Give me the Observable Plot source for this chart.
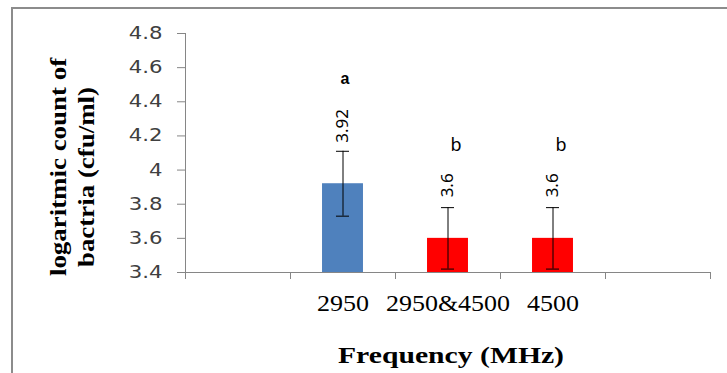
<!DOCTYPE html>
<html>
<head>
<meta charset="utf-8">
<script src="https://cdn.jsdelivr.net/npm/d3@7"></script>
<script src="https://cdn.jsdelivr.net/npm/@observablehq/plot@0.6"></script>
<style>
  body { margin: 0; background: #fff; }
  #wrap { position: relative; width: 727px; height: 373px; overflow: hidden; }
  #frame { position: absolute; left: 11px; top: 7px; right: 0; bottom: 0;
           border-top: 2px solid #8c8c8c; border-left: 2px solid #8c8c8c; pointer-events: none; }
  g[aria-label="y-axis tick"], g[aria-label="x-axis tick"] { stroke: #868686; }
  g[aria-label="y-axis tick label"] { font-family: "DejaVu Sans"; font-size: 17px; fill: #404040; }
  g[aria-label="x-axis tick label"] { font-family: "Liberation Serif"; font-size: 23px; fill: #000; }
</style>
</head>
<body>
<div id="wrap"><div id="frame"></div></div>
<script>
const categories = ["2950", "2950&4500", "4500"];
const means = [3.92, 3.6, 3.6];
const errors = [0.19, 0.18, 0.18];
const letters = ["a", "b", "b"];
const yTicks = [3.4, 3.6, 3.8, 4, 4.2, 4.4, 4.6, 4.8];
const yTitle = ["logaritmic count of", "bactria (cfu/ml)"];
const xTitle = "Frequency (MHz)";

// one empty slot on each side of the three categories
const data = categories.map((c, i) => ({
  category: c, pos: i + 1.5, mean: means[i], err: errors[i], letter: letters[i]
}));
const slotEdges = d3.range(0, categories.length + 3);
const half = 0.195, cap = 0.062;

const titleFont = { fontFamily: "Liberation Serif", fontWeight: "bold", fontSize: 23, fill: "#000" };

const chart = Plot.plot({
  width: 727,
  height: 373,
  marginLeft: 185,
  marginRight: 17,
  marginTop: 33,
  marginBottom: 101,
  x: { type: "linear", domain: [0, categories.length + 2], axis: null },
  y: { domain: [3.4, 4.8], axis: null },
  color: { domain: categories, range: ["#4f81bd", "#ff0000", "#ff0000"] },
  style: { background: "transparent", fontFamily: "Noto Sans", overflow: "visible" },
  marks: [
    Plot.rect(data, { x1: d => d.pos - half, x2: d => d.pos + half, y1: 3.4, y2: "mean", fill: "category" }),
    Plot.ruleX(data, { x: "pos", y1: d => d.mean - d.err, y2: d => d.mean + d.err, stroke: "#000", strokeWidth: 1 }),
    Plot.ruleY(data, { y: d => d.mean + d.err, x1: d => d.pos - cap, x2: d => d.pos + cap, stroke: "#000", strokeWidth: 1 }),
    Plot.ruleY(data, { y: d => d.mean - d.err, x1: d => d.pos - cap, x2: d => d.pos + cap, stroke: "#000", strokeWidth: 1 }),
    Plot.ruleX([0], { stroke: "#868686" }),
    Plot.ruleY([3.4], { stroke: "#868686" }),
    Plot.axisY({ ticks: yTicks, tickFormat: d => String(d), tickSize: 8, tickPadding: 15, label: null }),
    Plot.axisX({ ticks: slotEdges, tickFormat: () => "", tickSize: 7, label: null }),
    Plot.axisX({ ticks: data.map(d => d.pos), tickFormat: d => categories[Math.round(d - 1.5)], tickSize: 0, tickPadding: 22, label: null }),
    Plot.text(data, { x: "pos", y: "mean", text: d => String(d.mean), rotate: -90, textAnchor: "start",
                      dy: -41, fontFamily: "Noto Sans", fontSize: 17, fill: "#000" }),
    Plot.text(data.filter(d => d.letter === "a"), { x: "pos", y: "mean", text: "letter", dy: -105, dx: 2,
                      fontFamily: "Liberation Sans", fontWeight: "bold", fontSize: 16, fill: "#000" }),
    Plot.text(data.filter(d => d.letter !== "a"), { x: "pos", y: "mean", text: "letter", dy: -93, dx: 8,
                      fontFamily: "Noto Sans", fontSize: 18, fill: "#000" }),
    Plot.text([xTitle], { frameAnchor: "bottom", textAnchor: "middle", lineAnchor: "bottom", dy: 90, dx: 3, ...titleFont }),
    Plot.text([yTitle[0]], { frameAnchor: "left", textAnchor: "middle", lineAnchor: "middle", rotate: -90, dx: -127, dy: 14, ...titleFont }),
    Plot.text([yTitle[1]], { frameAnchor: "left", textAnchor: "middle", lineAnchor: "middle", rotate: -90, dx: -99, dy: 24, ...titleFont })
  ]
});
chart.style.position = "absolute";
chart.style.left = "0px";
chart.style.top = "0px";
document.getElementById("wrap").prepend(chart);

function stretchText(t, factor) {
  const L = t.getComputedTextLength();
  if (L > 0) {
    t.setAttribute("textLength", (L * factor).toFixed(1));
    t.setAttribute("lengthAdjust", "spacingAndGlyphs");
  }
}
chart.querySelectorAll('g[aria-label="y-axis tick label"] text').forEach(t => stretchText(t, 1.25));
chart.querySelectorAll('g[aria-label="x-axis tick label"] text').forEach(t => stretchText(t, 1.13));
chart.querySelectorAll("text").forEach(t => {
  if (t.textContent === xTitle) stretchText(t, 1.29);
  else if (yTitle.includes(t.textContent)) stretchText(t, 1.17);
});
</script>
</body>
</html>
